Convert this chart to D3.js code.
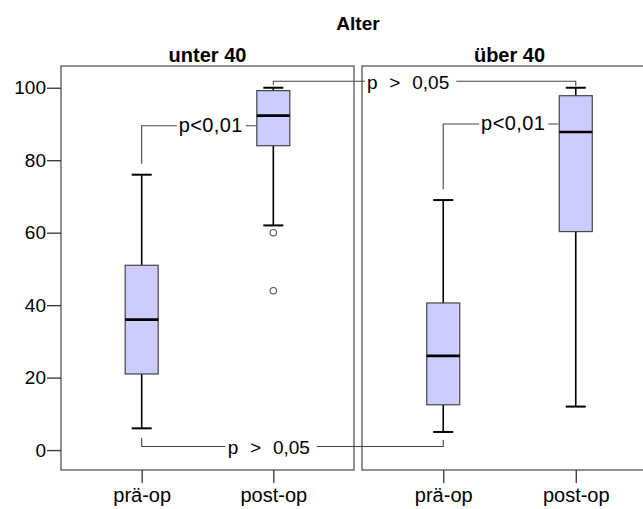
<!DOCTYPE html>
<html>
<head>
<meta charset="utf-8">
<script src="https://cdn.jsdelivr.net/npm/d3@7/dist/d3.min.js"></script>
<style>
  html, body { margin: 0; padding: 0; background: #fff; }
  svg { display: block; font-family: "Liberation Sans", Arial, sans-serif; }
</style>
</head>
<body>
<svg id="chart" width="643" height="509"></svg>
<script>
// Age groups (panels) and measurement phases (categories inside each panel)
const panels = ["unter 40", "über 40"];
const phases = ["prä-op", "post-op"];

// Box statistics, ordered: unter 40 prä/post, über 40 prä/post
const whiskerMin = [6, 62, 5, 12];
const quartile1  = [21, 84, 12.5, 60.3];
const medians    = [36, 92.3, 26, 87.8];
const quartile3  = [51, 99.2, 40.6, 97.8];
const whiskerMax = [76, 100, 69, 100];
const outliers   = [[], [60, 44], [], []];

const yTicks = [0, 20, 40, 60, 80, 100];
const yDomain = [-5.5, 106];

// Significance brackets: index of the two boxes compared, label and bracket level
const compareFrom  = [0, 2, 1, 0];
const compareTo    = [1, 3, 3, 2];
const compareText  = ["p<0,01", "p<0,01", "p > 0,05", "p > 0,05"];
const compareLevel = [89.5, 90, 101.8, 1];

const svg = d3.select("#chart");
const plotTop = 66, plotBottom = 470;
const panelRanges = [[61, 354], [362, 657]];

const y = d3.scaleLinear().domain(yDomain).range([plotBottom, plotTop]);
const xScales = panelRanges.map(r => d3.scalePoint().domain(phases).range(r).padding(0.613));

const boxes = [];
panels.forEach((p, pi) => phases.forEach((ph, ci) => {
  const i = pi * 2 + ci;
  boxes.push({
    panel: pi, x: xScales[pi](ph),
    lo: whiskerMin[i], q1: quartile1[i], med: medians[i], q3: quartile3[i], hi: whiskerMax[i],
    out: outliers[i]
  });
}));

const boxW = 33, capW = 20;

// Title
svg.append("text").attr("x", 358).attr("y", 30).attr("text-anchor", "middle")
  .attr("font-size", 19).attr("font-weight", "bold").text("Alter");

// Panel frames, headers and x axes
panels.forEach((p, pi) => {
  const [x0, x1] = panelRanges[pi];
  svg.append("rect").attr("x", x0).attr("y", plotTop).attr("width", x1 - x0).attr("height", plotBottom - plotTop)
    .attr("fill", "none").attr("stroke", "#555").attr("stroke-width", 1.3);
  svg.append("text").attr("x", (x0 + x1) / 2).attr("y", 62).attr("text-anchor", "middle")
    .attr("font-size", 20).attr("font-weight", "bold").text(p);

  const ax = svg.append("g").attr("transform", `translate(0,${plotBottom})`)
    .call(d3.axisBottom(xScales[pi]).tickSize(13).tickPadding(5));
  ax.select(".domain").remove();
  ax.selectAll(".tick line").attr("stroke", "#333").attr("stroke-width", 1.3);
  ax.selectAll(".tick text").attr("font-size", 20).attr("fill", "#000")
    .attr("font-family", "Liberation Sans, Arial, sans-serif");
});

// y axis
const ay = svg.append("g").attr("transform", `translate(61,0)`)
  .call(d3.axisLeft(y).tickValues(yTicks).tickSize(14).tickPadding(1));
ay.select(".domain").remove();
ay.selectAll(".tick line").attr("stroke", "#333").attr("stroke-width", 1.3);
ay.selectAll(".tick text").attr("font-size", 19).attr("fill", "#000")
  .attr("font-family", "Liberation Sans, Arial, sans-serif");

// Significance brackets
const ann = svg.append("g");
function bracket(i) {
  const a = boxes[compareFrom[i]], b = boxes[compareTo[i]];
  const ly = y(compareLevel[i]);
  const txt = ann.append("text").attr("fill", "#000").text(compareText[i]);
  const path = d3.path();
  if (i < 2) {
    // pre-op whisker top up to level, across to the post-op box edge
    const start = y(a.hi + 3), end = b.x - boxW / 2;
    txt.attr("font-size", 20).attr("letter-spacing", 0.4)
      .attr("text-anchor", "end").attr("x", end - 14).attr("y", ly + 6);
    const w = txt.node().getComputedTextLength();
    path.moveTo(a.x, start); path.lineTo(a.x, ly); path.lineTo(end - 14 - w - 2, ly);
    path.moveTo(end - 11, ly); path.lineTo(end - 1, ly);
  } else {
    const t0 = i === 2 ? panelRanges[1][0] + 5 : a.x + 86;
    txt.attr("font-size", 19).attr("word-spacing", 6.5).attr("x", t0).attr("y", ly + 7.5)
      .attr("xml:space", "preserve");
    const w = txt.node().getComputedTextLength();
    if (i === 2) {
      // between the two post-op maxima, above the boxes
      path.moveTo(a.x, y(a.hi + 0.8)); path.lineTo(a.x, ly); path.lineTo(t0 - 2, ly);
      path.moveTo(t0 + w + 7, ly); path.lineTo(b.x, ly); path.lineTo(b.x, y(b.hi + 0.5));
    } else {
      // between the two pre-op minima, below the boxes
      path.moveTo(a.x, y(a.lo - 2.6)); path.lineTo(a.x, ly); path.lineTo(t0 - 2.5, ly);
      path.moveTo(t0 + w + 7, ly); path.lineTo(b.x, ly); path.lineTo(b.x, y(b.lo - 2.2));
    }
  }
  ann.insert("path", "text").attr("d", path.toString()).attr("fill", "none")
    .attr("stroke", "#444").attr("stroke-width", 1.1);
}
compareText.forEach((_, i) => bracket(i));

// Boxplots
const g = svg.append("g");
boxes.forEach(d => {
  g.append("line").attr("x1", d.x).attr("x2", d.x).attr("y1", y(d.lo)).attr("y2", y(d.q1))
    .attr("stroke", "#000").attr("stroke-width", 1.6);
  g.append("line").attr("x1", d.x).attr("x2", d.x).attr("y1", y(d.q3)).attr("y2", y(d.hi))
    .attr("stroke", "#000").attr("stroke-width", 1.6);
  [d.lo, d.hi].forEach(v => g.append("line")
    .attr("x1", d.x - capW / 2).attr("x2", d.x + capW / 2).attr("y1", y(v)).attr("y2", y(v))
    .attr("stroke", "#000").attr("stroke-width", 2));
  g.append("rect").attr("x", d.x - boxW / 2).attr("y", y(d.q3))
    .attr("width", boxW).attr("height", y(d.q1) - y(d.q3))
    .attr("fill", "#ccccff").attr("stroke", "#444").attr("stroke-width", 1.2);
  g.append("line").attr("x1", d.x - boxW / 2).attr("x2", d.x + boxW / 2)
    .attr("y1", y(d.med)).attr("y2", y(d.med)).attr("stroke", "#000").attr("stroke-width", 2.6);
  d.out.forEach(v => g.append("circle").attr("cx", d.x).attr("cy", y(v)).attr("r", 3.2)
    .attr("fill", "#fff").attr("stroke", "#555").attr("stroke-width", 1.1));
});
</script>
</body>
</html>
